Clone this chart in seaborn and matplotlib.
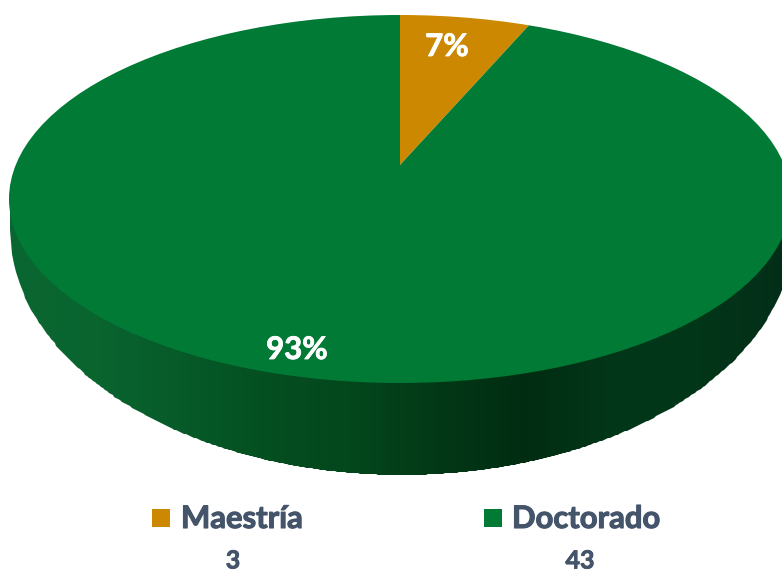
import numpy as np
import matplotlib
matplotlib.use('Agg')
import matplotlib.pyplot as plt
import matplotlib.patheffects as pe
from matplotlib.colors import ListedColormap
from matplotlib.patches import Ellipse, Polygon
import seaborn as sns

categories = ['Maestría', 'Doctorado']
counts = [3, 43]
pie_colors = ['#CC8800', '#007A35']
label_color = '#44546A'

sns.set_theme(style='white')
plt.rcParams['font.family'] = ['Lato', 'DejaVu Sans']

W, H = 782, 571
fig = plt.figure(figsize=(W / 100, H / 100), dpi=100)

# ejes en pixeles para pared lateral, textos y leyenda
ax = fig.add_axes([0, 0, 1, 1])
ax.set_xlim(0, W)
ax.set_ylim(H, 0)
ax.axis('off')

# pared lateral: degradado recortado con la elipse inferior
side = sns.blend_palette(['#0A6630', '#09642E', '#065A28', '#044E20', '#03461C',
                          '#023816', '#012C11', '#023618', '#023618', '#022E18'], 256)
xs = np.linspace(10, W, 400)
low = 230 + 245 * np.sqrt(np.clip(1 - ((xs - 402) / 392) ** 2, 0, 1))
mesh = ax.pcolormesh(xs, [199, 480], np.linspace(0, 1, 399)[None, :],
                     cmap=ListedColormap(side), shading='flat')
wall = Polygon(np.r_[[[10, 199]], np.c_[xs, low], [[W, 199]]], transform=ax.transData,
               fc='none', ec='none')
ax.add_patch(wall)
mesh.set_clip_path(wall)

# cara superior: ejes estirados sobre la elipse
cx, cy, rx, ry = 400, 199, 391, 184
top = fig.add_axes([(cx - rx) / W, 1 - (cy + ry) / H, 2 * rx / W, 2 * ry / H])
top.patch.set_alpha(0)
wedges, _ = top.pie(counts, colors=pie_colors, startangle=90, counterclock=False,
                    center=(0, 34 / ry), radius=3, wedgeprops={'lw': 0})
top.set_aspect('auto')
top.set_xlim(-1, 1)
top.set_ylim(-1, 1)
rim = Ellipse((0, 0), 2, 2, transform=top.transData, fc='none', ec='none')
top.add_patch(rim)
for w in wedges:
    w.set_clip_on(True)
    w.set_clip_path(rim)

# porcentajes
total = sum(counts)
top_text = fig.add_axes([0, 0, 1, 1])
top_text.set_xlim(0, W)
top_text.set_ylim(H, 0)
top_text.axis('off')
pct_pos = [(447, 47), (297, 350)]
for v, (px, py) in zip(counts, pct_pos):
    top_text.text(px, py, f'{v / total:.0%}', color='white', fontsize=22.4,
                  fontweight='bold', ha='center', va='center',
                  path_effects=[pe.withStroke(linewidth=0.6, foreground='white')])

# leyenda con los conteos debajo
square_x = [161, 493]
text_x = [181, 512]
count_x = [233, 580]
for name, n, c, sx, tx, nx in zip(categories, counts, pie_colors, square_x, text_x, count_x):
    top_text.scatter([sx], [518], marker='s', s=150, color=c, lw=0)
    top_text.text(tx, 519, name, color=label_color, fontsize=22.3, fontweight='bold',
                  ha='left', va='center',
                  path_effects=[pe.withStroke(linewidth=0.8, foreground=label_color)])
    top_text.text(nx, 561, str(n), color=label_color, fontsize=18, fontweight='bold',
                  ha='center', va='center',
                  path_effects=[pe.withStroke(linewidth=0.6, foreground=label_color)])

fig.savefig('out.png', dpi=100, facecolor='white')
